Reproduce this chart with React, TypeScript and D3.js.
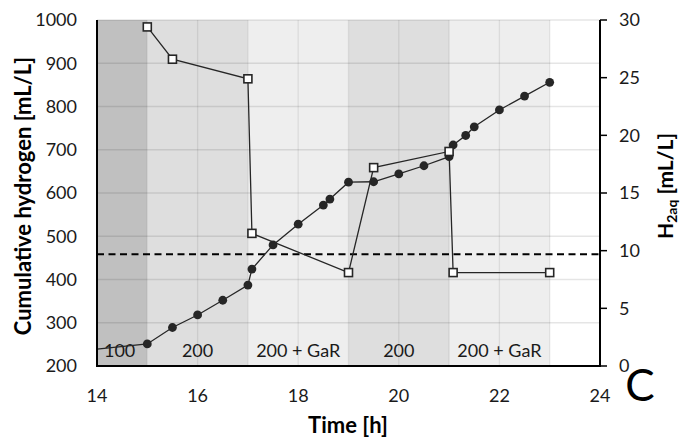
import React from "react";
import * as d3 from "d3";

// ---- data ----
const bandStart = [14, 15, 17, 19, 21];
const bandEnd = [15, 17, 19, 21, 23];
const bandLabels = ["100", "200", "200 + GaR", "200", "200 + GaR"];
const bandLabelX = [14.45, 16, 18, 20, 22];
const bandColors = ["#c0c0c0", "#dedede", "#eeeeee", "#dedede", "#eeeeee"];

const cumHours = [13, 15, 15.5, 16, 16.5, 17, 17.08, 17.5, 18, 18.5, 18.63, 19, 19.5, 20, 20.5, 21, 21.08, 21.33, 21.5, 22, 22.5, 23];
const cumH2 = [227, 251, 289, 318, 352, 387, 424, 480, 528, 572, 586, 625, 626, 644, 663, 684, 711, 733, 753, 792, 824, 856];

const aqHours = [15, 15.5, 17, 17.08, 19, 19.5, 21, 21.08, 23];
const aqH2 = [29.4, 26.6, 24.9, 11.5, 8.1, 17.2, 18.6, 8.1, 8.1];

const threshold = 9.7;

const xTicks = [14, 16, 18, 20, 22, 24];
const leftTicks = [200, 300, 400, 500, 600, 700, 800, 900, 1000];
const rightTicks = [0, 5, 10, 15, 20, 25, 30];
const xGrid = [15, 16, 17, 18, 19, 20, 21, 22, 23];

const W = 681;
const H = 442;
const L = 97;
const R = 600;
const T = 20;
const B = 366;
const FONT = "Lato, 'Open Sans', sans-serif";

export default function App() {
  const x = d3.scaleLinear().domain([14, 24]).range([L, R]);
  const yL = d3.scaleLinear().domain([200, 1000]).range([B, T]);
  const yR = d3.scaleLinear().domain([0, 30]).range([B, T]);

  const cumPts: [number, number][] = cumHours.map((h, i) => [h, cumH2[i]]);
  const aqPts: [number, number][] = aqHours.map((h, i) => [h, aqH2[i]]);

  const lineL = d3.line<[number, number]>().x((d) => x(d[0])).y((d) => yL(d[1]));
  const lineR = d3.line<[number, number]>().x((d) => x(d[0])).y((d) => yR(d[1]));

  return (
    <svg width={W} height={H} style={{ position: "absolute", left: 0, top: 0, background: "#fff" }} fontFamily={FONT}>
      <defs>
        <clipPath id="plotClip">
          <rect x={L} y={T - 10} width={R - L} height={B - T + 10} />
        </clipPath>
      </defs>
      {/* bands */}
      {bandStart.map((s, i) => (
        <rect key={"b" + i} x={x(s)} y={T} width={x(bandEnd[i]) - x(s)} height={B - T} fill={bandColors[i]} />
      ))}
      {/* grid */}
      {leftTicks.map((v) => (
        <line key={"gy" + v} x1={L} x2={R} y1={yL(v)} y2={yL(v)} stroke="rgba(0,0,0,0.1)" strokeWidth={1.3} />
      ))}
      {xGrid.map((v) => (
        <line key={"gx" + v} x1={x(v)} x2={x(v)} y1={T} y2={B} stroke="rgba(0,0,0,0.08)" strokeWidth={1.3} />
      ))}
      {/* band labels */}
      {bandLabels.map((t, i) => (
        <text key={"bl" + i} x={x(bandLabelX[i])} y={357} textAnchor="middle" fontSize={18} fill="#1a1a1a">
          {t}
        </text>
      ))}
      {/* threshold */}
      <line x1={L} x2={R} y1={yR(threshold)} y2={yR(threshold)} stroke="#000" strokeWidth={2} strokeDasharray="7,4.5" />
      {/* series */}
      <g clipPath="url(#plotClip)">
        <path d={lineL(cumPts) || ""} fill="none" stroke="#262626" strokeWidth={1.3} />
        {cumPts.map((p, i) => (
          <circle key={"c" + i} cx={x(p[0])} cy={yL(p[1])} r={4.4} fill="#262626" />
        ))}
        <path d={lineR(aqPts) || ""} fill="none" stroke="#262626" strokeWidth={1.3} />
        {aqPts.map((p, i) => (
          <rect key={"s" + i} x={x(p[0]) - 4} y={yR(p[1]) - 4} width={8} height={8} fill="#fff" stroke="#262626" strokeWidth={1.6} />
        ))}
      </g>
      {/* axes */}
      <line x1={L} x2={L} y1={T} y2={B + 1} stroke="#000" strokeWidth={2} />
      <line x1={L - 1} x2={R + 1} y1={B} y2={B} stroke="#000" strokeWidth={2} />
      <line x1={R} x2={R} y1={T} y2={B + 1} stroke="#000" strokeWidth={2} />
      {rightTicks.map((v) => (
        <line key={"rt" + v} x1={R} x2={R + 7} y1={yR(v)} y2={yR(v)} stroke="#000" strokeWidth={1.5} />
      ))}
      {/* tick labels */}
      {leftTicks.map((v) => (
        <text key={"lt" + v} x={77} y={yL(v)} dy="0.35em" textAnchor="end" fontSize={18} fill="#1a1a1a">
          {v}
        </text>
      ))}
      {rightTicks.map((v) => (
        <text key={"rl" + v} x={619} y={yR(v)} dy="0.35em" textAnchor="start" fontSize={18} fill="#1a1a1a">
          {v}
        </text>
      ))}
      {xTicks.map((v) => (
        <text key={"xt" + v} x={x(v)} y={402} textAnchor="middle" fontSize={18} fill="#1a1a1a">
          {v}
        </text>
      ))}
      {/* titles */}
      <text x={348} y={433} textAnchor="middle" fontSize={22} fontWeight="bold" fill="#000">
        Time [h]
      </text>
      <text transform="translate(31,196) rotate(-90)" textAnchor="middle" fontSize={22} fontWeight="bold" fill="#000">
        Cumulative hydrogen [mL/L]
      </text>
      <text transform="translate(673,186) rotate(-90)" textAnchor="middle" fontSize={21} fontWeight="bold" fill="#000">
        H<tspan fontSize={14} dy={4}>2aq</tspan>
        <tspan dy={-4}> [mL/L]</tspan>
      </text>
      <text x={640} y={401} textAnchor="middle" fontSize={44} fill="#000">
        C
      </text>
    </svg>
  );
}
